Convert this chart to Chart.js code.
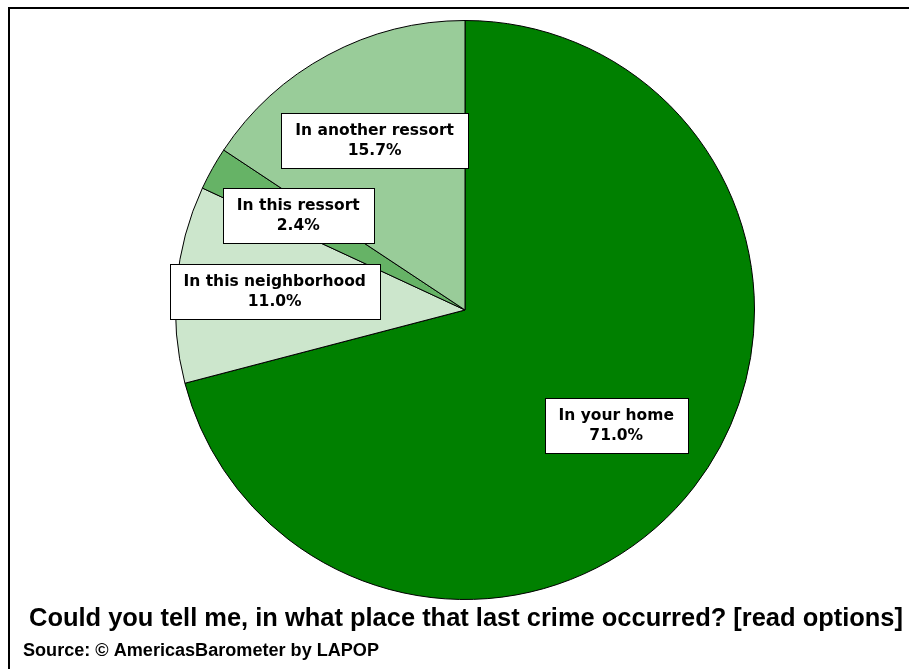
<!DOCTYPE html>
<html>
<head>
<meta charset="utf-8">
<script src="https://cdn.jsdelivr.net/npm/chart.js@4"></script>
<style>
  html, body { margin: 0; padding: 0; background: #fff; }
  #wrap { width: 909px; height: 669px; position: relative; }
</style>
</head>
<body>
<div id="wrap"><canvas id="crimeChart" width="909" height="669"></canvas></div>
<script>
// data
const places = ['In your home', 'In this neighborhood', 'In this ressort', 'In another ressort'];
const shares = [71.0, 11.0, 2.4, 15.7];
const sliceColors = ['#008000', '#cce6cc', '#66b366', '#99cc99'];
const titleText = 'Could you tell me, in what place that last crime occurred? [read options]';
const sourceText = 'Source: \u00a9 AmericasBarometer by LAPOP';

// draw text fitted to a given width
function fitText(ctx, text, x, y, width) {
    const natural = ctx.measureText(text).width;
    ctx.save();
    ctx.translate(x, y);
    ctx.scale(width / natural, 1);
    ctx.fillText(text, 0, 0);
    ctx.restore();
}

// label boxes on the slices + title, source and frame
const decorations = {
    id: 'decorations',
    afterDraw(chart) {
        const ctx = chart.ctx;
        const meta = chart.getDatasetMeta(0);
        ctx.save();
        ctx.font = 'bold 15.5px "DejaVu Sans"';
        ctx.textAlign = 'center';
        ctx.textBaseline = 'middle';
        meta.data.forEach(function (arc, i) {
            const mid = (arc.startAngle + arc.endAngle) / 2;
            const r = arc.outerRadius * 0.66;
            const cx = arc.x + Math.cos(mid) * r;
            const cy = arc.y + Math.sin(mid) * r - 1.5;
            const line1 = places[i];
            const line2 = shares[i].toFixed(1) + '%';
            const w = Math.round(Math.max(ctx.measureText(line1).width, ctx.measureText(line2).width) + 28);
            const h = 55;
            const bx = Math.round(cx - w / 2) + 0.5, by = Math.round(cy - h / 2) + 0.5;
            ctx.fillStyle = '#fff';
            ctx.fillRect(bx, by, w, h);
            ctx.strokeStyle = '#000';
            ctx.lineWidth = 1;
            ctx.strokeRect(bx, by, w, h);
            ctx.fillStyle = '#000';
            ctx.fillText(line1, cx, cy - 9);
            ctx.fillText(line2, cx, cy + 11);
        });

        ctx.textAlign = 'left';
        ctx.textBaseline = 'alphabetic';
        ctx.font = 'bold 25px "Liberation Sans"';
        fitText(ctx, titleText, 29, 626, 874);
        ctx.font = 'bold 18px "Liberation Sans"';
        fitText(ctx, sourceText, 23, 656, 356);

        // frame: only the top and left edges show
        ctx.fillStyle = '#000';
        ctx.fillRect(8, 7, chart.width - 8, 2);
        ctx.fillRect(8, 7, 2, chart.height - 7);
        ctx.restore();
    }
};

new Chart(document.getElementById('crimeChart').getContext('2d'), {
    type: 'pie',
    data: {
        labels: places,
        datasets: [{
            data: shares,
            backgroundColor: sliceColors,
            borderColor: '#000',
            borderWidth: 1
        }]
    },
    options: {
        responsive: false,
        animation: false,
        layout: { padding: { left: 175, right: 154, top: 20, bottom: 69 } },
        plugins: {
            legend: { display: false },
            tooltip: { enabled: false }
        }
    },
    plugins: [decorations]
});
</script>
</body>
</html>
